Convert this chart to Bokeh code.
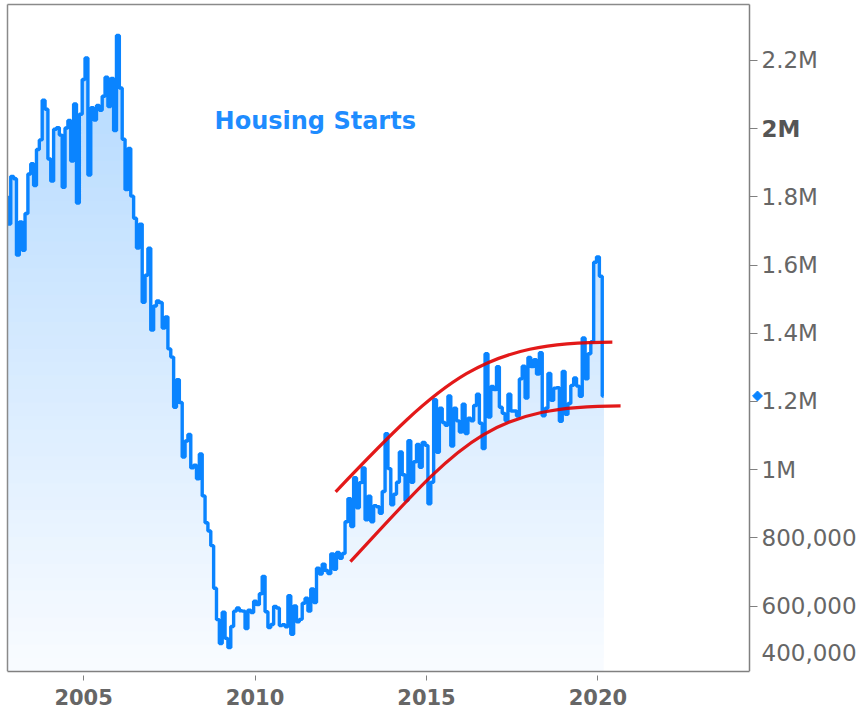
import numpy as np
from bokeh.plotting import figure
from bokeh.models import FixedTicker, Range1d, LinearAxis
from bokeh.embed import file_html
from bokeh.resources import INLINE

# ---------------- data (housing starts, thousands, monthly SAAR) ----------------
first_year = 2002
first_month = 10
starts_k = [
    1800, 1720, 1860,                                                       # 2002 Oct-Dec
    1853, 1629, 1726, 1643, 1751, 1867, 1897, 1833, 1939, 1967, 2083, 2057,  # 2003
    1911, 1846, 1998, 2003, 1981, 1828, 2002, 2024, 1905, 2072, 1782, 2042,  # 2004
    2144, 2207, 1864, 2061, 2025, 2068, 2054, 2095, 2151, 2065, 2147, 1994,  # 2005
    2273, 2119, 1969, 1821, 1942, 1802, 1737, 1650, 1720, 1491, 1570, 1649,  # 2006
    1409, 1480, 1495, 1490, 1415, 1448, 1354, 1330, 1183, 1264, 1197, 1037,  # 2007
    1084, 1103, 1005, 1013, 973, 1046, 923, 844, 820, 777, 652, 560,         # 2008
    490, 582, 505, 478, 540, 585, 594, 586, 585, 534, 588, 581,              # 2009
    614, 604, 636, 687, 583, 537, 546, 599, 594, 543, 545, 539,              # 2010
    630, 517, 600, 554, 561, 608, 623, 585, 650, 610, 711, 694,              # 2011
    723, 704, 695, 753, 708, 757, 740, 754, 847, 915, 833, 976,              # 2012
    888, 962, 1005, 853, 922, 847, 894, 891, 872, 936, 1105, 1003,          # 2013
    897, 928, 963, 1052, 985, 909, 1085, 963, 1023, 1074, 1007, 1080,       # 2014
    1071, 900, 963, 1205, 1051, 1180, 1138, 1130, 1216, 1069, 1180, 1143,   # 2015
    1110, 1192, 1106, 1151, 1143, 1188, 1221, 1136, 1062, 1340, 1154, 1244, # 2016
    1235, 1302, 1183, 1165, 1144, 1221, 1172, 1172, 1157, 1266, 1303, 1210, # 2017
    1329, 1302, 1322, 1280, 1343, 1158, 1180, 1282, 1203, 1239, 1240, 1142, # 2018
    1288, 1162, 1194, 1247, 1269, 1245, 1215, 1386, 1266, 1340, 1375, 1608, # 2019
    1624, 1567, 1216,                                                       # 2020 Jan-Mar
]

x_ticks = [2005, 2010, 2015, 2020]
y_ticks = [600000, 800000, 1000000, 1200000, 1400000, 1600000, 1800000, 2000000, 2200000]
y_tick_labels = ["600,000", "800,000", "1M", "1.2M", "1.4M", "1.6M", "1.8M", "2M", "2.2M"]
bold_tick_label = "2M"
bottom_tick_label = "400,000"
bottom_label_pos = 464000   # where the clamped bottom label sits

# trend channel drawn on the chart (cubic bezier: start, control 1, control 2, end)
upper_channel_x = [2012.35, 2015.55, 2016.63, 2020.42]
upper_channel_y = [935000, 1273000, 1374000, 1374000]
lower_channel_x = [2012.78, 2015.99, 2016.72, 2020.66]
lower_channel_y = [730000, 1078000, 1187000, 1187000]

title_text = "Housing Starts"

# ---------------- derived ----------------
vals = np.array(starts_k, dtype=float) * 1000.0
xs = first_year + (first_month - 1) / 12.0 + np.arange(len(vals)) / 12.0
last_value = float(vals[-1])

# plotting area (axis box) and the wider drawing canvas around it
ax_x0, ax_x1 = 2002.78, 2024.42
ax_y0, ax_y1 = 408000, 2364000
px_per_year = 742 / (ax_x1 - ax_x0)
px_per_unit = 667 / (ax_y1 - ax_y0)
view_x0 = ax_x0 - 7 / px_per_year
view_x1 = ax_x1 + 116 / px_per_year
view_y1 = ax_y1 + 4 / px_per_unit

AXIS_GREY = "#808080"
LABEL_GREY = "#666666"
FONT = "DejaVu Sans"

p = figure(width=865, height=719, output_backend="svg", toolbar_location=None,
           x_range=Range1d(view_x0, view_x1), y_range=Range1d(ax_y0, view_y1),
           y_axis_location=None,
           min_border_left=0, min_border_top=0, min_border_right=0, min_border_bottom=48)
p.background_fill_color = "white"
p.border_fill_color = "white"
p.outline_line_color = None
p.xgrid.visible = False
p.ygrid.visible = False

# the data is shown from the left edge of the box onwards
xs_c = np.clip(xs, ax_x0 + 1.5 / 12, None)

# gradient fill built from overlapping stepped layers
n_layers = 48
grad_top = 2300000.0
blue = np.array([0, 128, 255])
for k in range(n_layers):
    b = ax_y0 + (grad_top - ax_y0) * k / n_layers
    t = k / (n_layers - 1)
    a = 0.025 + 0.275 * t
    rgb = (255 * (1 - a) + blue * a).astype(int)
    col = "#%02x%02x%02x" % tuple(rgb)
    top = np.maximum(vals, b)
    p.varea_step(x=xs, y1=np.full_like(vals, b), y2=top, step_mode="center",
                 fill_color=col, fill_alpha=1.0)

p.step(xs, vals, mode="center", line_color="#0a84ff", line_width=3.4)

# white mask left of the box, then box borders (left and top)
p.block(x=[view_x0], y=[ax_y0], width=ax_x0 - view_x0, height=view_y1 - ax_y0,
        fill_color="white", line_color=None)
p.segment(x0=[ax_x0, ax_x0], y0=[ax_y0, ax_y1], x1=[ax_x0, ax_x1], y1=[ax_y1, ax_y1],
          line_color="#8a8a8a", line_width=1.5)

for cx, cy in ((upper_channel_x, upper_channel_y), (lower_channel_x, lower_channel_y)):
    p.bezier(x0=[cx[0]], y0=[cy[0]], cx0=[cx[1]], cy0=[cy[1]],
             cx1=[cx[2]], cy1=[cy[2]], x1=[cx[3]], y1=[cy[3]],
             line_color="#e00000", line_width=3.2, line_alpha=0.9)

# x axis
xa = p.xaxis[0]
xa.ticker = FixedTicker(ticks=x_ticks)
xa.bounds = (ax_x0, ax_x1)
xa.axis_line_color = AXIS_GREY
xa.axis_line_width = 1.5
xa.major_tick_line_color = AXIS_GREY
xa.major_tick_in = -4
xa.major_tick_out = 9
xa.minor_tick_line_color = None
xa.major_label_text_font = FONT
xa.major_label_text_font_style = "bold"
xa.major_label_text_font_size = "21px"
xa.major_label_text_color = LABEL_GREY
xa.major_label_standoff = 8

# right value axis, drawn at the right edge of the box
ya = LinearAxis(fixed_location=ax_x1, ticker=FixedTicker(ticks=y_ticks), bounds=(ax_y0, ax_y1))
ya.major_label_overrides = {v: ("" if lab == bold_tick_label else lab)
                            for v, lab in zip(y_ticks, y_tick_labels)}
ya.axis_line_color = AXIS_GREY
ya.axis_line_width = 1.5
ya.major_tick_line_color = AXIS_GREY
ya.major_tick_in = 0
ya.major_tick_out = 8
ya.minor_tick_line_color = None
ya.major_label_text_font = FONT
ya.major_label_text_font_size = "23px"
ya.major_label_text_color = LABEL_GREY
ya.major_label_standoff = 4
p.add_layout(ya, "right")

label_x = ax_x1 + 12 / px_per_year
bold_value = y_ticks[y_tick_labels.index(bold_tick_label)]
p.text(x=[label_x], y=[bold_value], text=[bold_tick_label], text_font={"value": FONT},
       text_font_style="bold", text_font_size="23px", text_color="#555555",
       text_align="left", text_baseline="middle")
p.text(x=[label_x], y=[bottom_label_pos], text=[bottom_tick_label], text_font={"value": FONT},
       text_font_size="23px", text_color=LABEL_GREY,
       text_align="left", text_baseline="middle")
p.scatter(x=[ax_x1 + 8 / px_per_year], y=[last_value], marker="square", angle=np.pi / 4,
          size=7, fill_color="#0a84ff", line_color="#0a84ff")

# title inside the plot
p.text(x=[2008.82], y=[2021000], text=[title_text], text_font={"value": FONT},
       text_font_style="bold", text_font_size="24px", text_color="#1e8cff",
       text_align="left", text_baseline="middle")

open("out.html", "w").write(file_html(p, INLINE, title="Housing Starts"))
